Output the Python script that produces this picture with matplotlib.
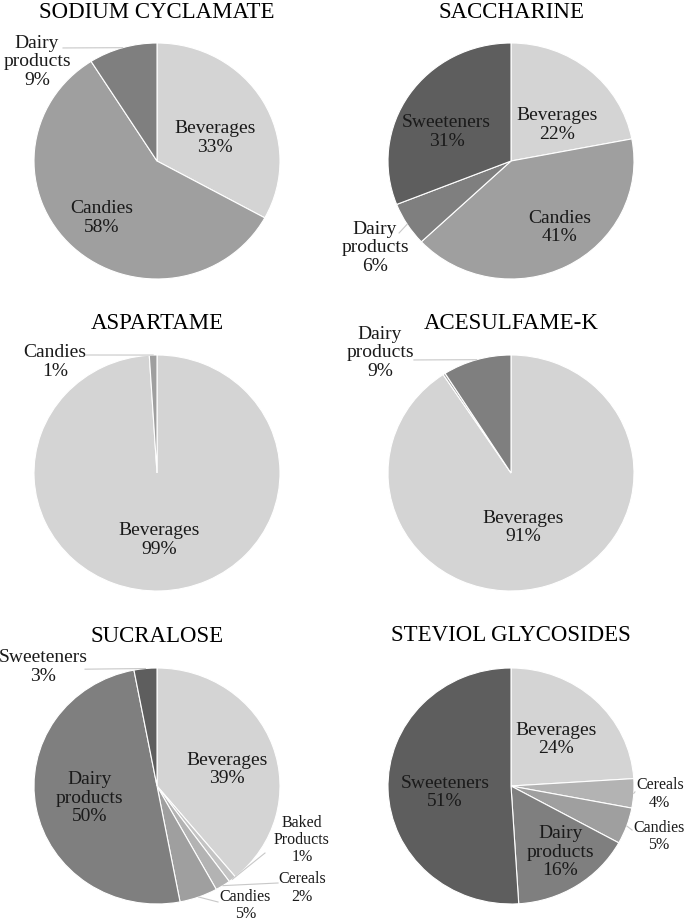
import numpy as np
import matplotlib.pyplot as plt

plt.rcParams['font.family'] = ['Liberation Serif', 'DejaVu Serif']

# grey shades per food category
cat_colors = {'Beverages': '#d4d4d4', 'Baked Products': '#c4c4c4', 'Cereals': '#b3b3b3',
              'Candies': '#9f9f9f', 'Dairy products': '#7f7f7f', 'Sweeteners': '#5e5e5e'}

# data (percent of intake by food category)
sodium_cats = ['Beverages', 'Candies', 'Dairy products']
sodium_vals = [33, 58, 9]
sacch_cats = ['Beverages', 'Candies', 'Dairy products', 'Sweeteners']
sacch_vals = [22, 41, 6, 31]
aspart_cats = ['Beverages', 'Candies']
aspart_vals = [99, 1]
acek_cats = ['Beverages', 'Candies', 'Dairy products']
acek_vals = [90.7, 0.3, 9]
sucra_cats = ['Beverages', 'Baked Products', 'Cereals', 'Candies', 'Dairy products', 'Sweeteners']
sucra_vals = [39, 1, 2, 5, 50, 3]
stev_cats = ['Beverages', 'Cereals', 'Candies', 'Dairy products', 'Sweeteners']
stev_vals = [24, 4, 5, 16, 51]

W, H = 685, 923
RX, RY = 123, 118

# label placement (radius units):
#   ('in', radial fraction, angle nudge in degrees)
#   ('out', text x, text y, leader start x, leader start y, small font)
charts = [
    ('SODIUM CYCLAMATE', sodium_cats, sodium_vals, (157, 161), 18,
     [('in', 0.51, -8), ('in', 0.66, 0), ('out', -0.976, 0.839, -0.764, 0.958, False)]),
    ('SACCHARINE', sacch_cats, sacch_vals, (511, 161), 18,
     [('in', 0.48, -11), ('in', 0.69, 8), ('out', -1.106, -0.737, -0.91, -0.61, False),
      ('in', 0.58, 9)]),
    ('ASPARTAME', aspart_cats, aspart_vals, (157, 473), 329,
     [('in', 0.57, 0), ('out', -0.83, 0.94, -0.585, 1.0, False)]),
    ('ACESULFAME-K', acek_cats, acek_vals, (511, 473), 329,
     [('in', 0.47, -5), None, ('out', -1.065, 1.017, -0.789, 0.958, False)]),
    ('SUCRALOSE', sucra_cats, sucra_vals, (157, 786), 642,
     [('in', 0.585, -6), ('out', 1.179, -0.458, 0.878, -0.568, True),
      ('out', 1.179, -0.864, 0.984, -0.822, True), ('out', 0.72, -1.01, 0.496, -0.983, True),
      ('in', 0.56, 0), ('out', -0.927, 1.008, -0.585, 0.99, False)]),
    ('STEVIOL GLYCOSIDES', stev_cats, stev_vals, (511, 786), 641,
     [('in', 0.54, 0), ('out', 1.21, -0.068, 1.008, -0.05, True),
      ('out', 1.20, -0.43, 0.984, -0.373, True), ('in', 0.69, 3), ('in', 0.54, 4)]),
]

fig = plt.figure(figsize=(W / 100, H / 100), dpi=100)

for title, cats, vals, (cx, cy), title_y, places in charts:
    ax = fig.add_axes([0, 0, 1, 1])
    ax.set_axis_off()
    wedges, _ = ax.pie(vals, colors=[cat_colors[c] for c in cats], startangle=90,
                       counterclock=False,
                       wedgeprops=dict(edgecolor='white', linewidth=0.8))
    ax.set_aspect('auto')
    ax.set_xlim(-cx / RX, (W - cx) / RX)
    ax.set_ylim(-(H - cy) / RY, cy / RY)

    ax.text(0, (cy - title_y) / RY, title, ha='center', va='baseline',
            fontsize=16.5, color='black')

    total = sum(vals)
    for w, cat, v, place in zip(wedges, cats, vals, places):
        if place is None:
            continue
        txt = cat.replace(' ', '\n') + f'\n{v / total * 100:.0f}%'
        mid = np.deg2rad((w.theta1 + w.theta2) / 2)
        if place[0] == 'in':
            _, r, nudge = place
            a = mid + np.deg2rad(nudge)
            ax.text(r * np.cos(a), r * np.sin(a), txt, ha='center', va='center',
                    fontsize=14, color='#1a1a1a', linespacing=1.12)
        else:
            _, tx, ty, lx, ly, small = place
            ax.plot([lx, np.cos(mid)], [ly, np.sin(mid)], color='#c8c8c8', lw=0.8)
            ax.text(tx, ty, txt, ha='center', va='center',
                    fontsize=11.5 if small else 14, color='#1a1a1a',
                    linespacing=1.1 if small else 1.12)

fig.savefig('out.png', dpi=100)
